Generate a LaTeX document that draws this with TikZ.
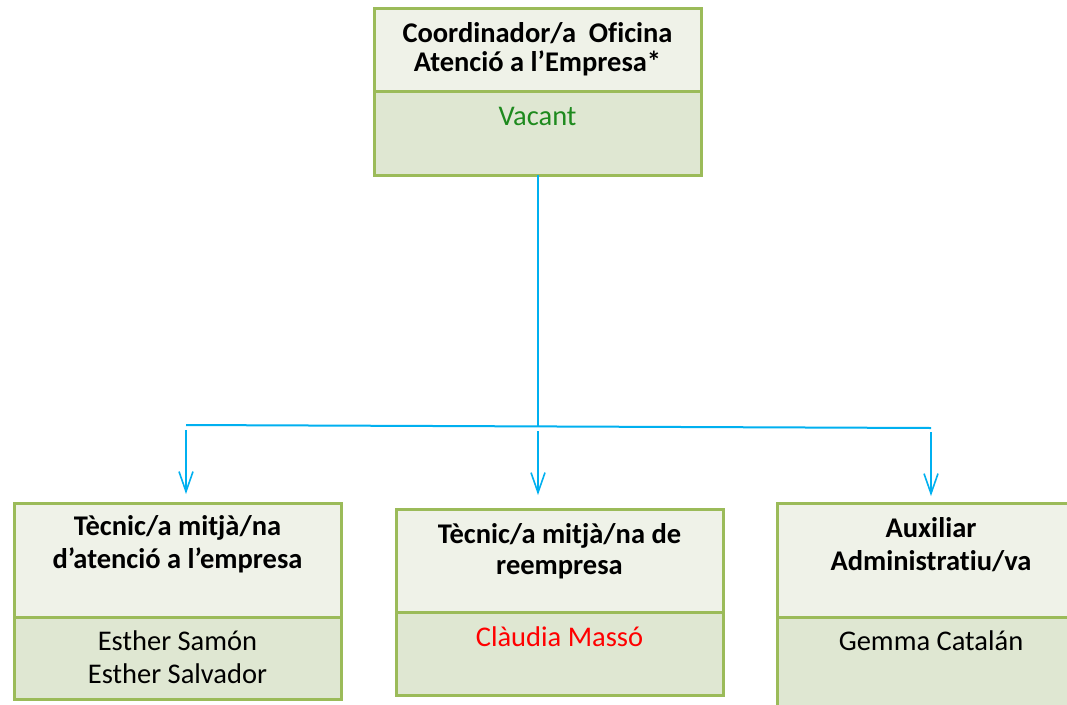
\documentclass[tikz,border=0pt]{standalone}
\usepackage{fontspec}
\setmainfont{Carlito}[Ligatures=NoCommon]
\usetikzlibrary{arrows.meta}
\definecolor{boxline}{HTML}{9BBB59}
\definecolor{headfill}{HTML}{EFF2E8}
\definecolor{bodyfill}{HTML}{DFE7D2}
\definecolor{conn}{HTML}{00B0F0}
\definecolor{vacgreen}{HTML}{1E8A1E}
\begin{document}
\begin{tikzpicture}[x=1pt,y=-1pt,
  head/.style={draw=boxline,fill=headfill,line width=3pt,minimum width=327pt,inner sep=0pt,outer sep=0pt},
  body/.style={draw=boxline,fill=bodyfill,line width=3pt,minimum width=327pt,inner sep=0pt,outer sep=0pt},
  title/.style={font=\fontsize{28.5}{30}\selectfont\bfseries,align=center,inner sep=0pt},
  names/.style={font=\fontsize{28.5}{33}\selectfont,align=center,inner sep=0pt},
  link/.style={draw=conn,line width=2pt},
  arr/.style={draw=conn,line width=1.6pt,-{Straight Barb[length=20pt,width=14pt,line width=1.6pt]}}]
\useasboundingbox (0,0) rectangle (1067,704);
\fill[white] (0,0) rectangle (1067,704);
% top box
\node[body,minimum height=84pt] (topbody) at (537.5,133) {};
\node[head,minimum height=83pt] (tophead) at (537.5,49.5) {};
\node[title,font=\fontsize{28.5}{29}\selectfont\bfseries] (toptitle) at (537.5,49) {Coordinador/a\ \ Oficina\\Atenció a l’Empresa*};
\node[names,text=vacgreen] (topname) at (537.5,116) {Vacant};
% left box
\node[body,minimum height=82pt] (lbody) at (177.5,658) {};
\node[head,minimum height=114pt] (lhead) at (177.5,560) {};
\node[title,font=\fontsize{28.5}{33}\selectfont\bfseries] (ltitle) at (177.5,544.5) {Tècnic/a mitjà/na\\d’atenció a l’empresa};
\node[names] (lname) at (177.5,657.5) {Esther Samón\\Esther Salvador};
% middle box
\node[body,minimum height=83pt] (mbody) at (559.5,653.5) {};
\node[head,minimum height=103pt] (mhead) at (559.5,560.5) {};
\node[title,font=\fontsize{28.5}{31}\selectfont\bfseries] (mtitle) at (559.5,551) {Tècnic/a mitjà/na de\\reempresa};
\node[names,text=red] (mname) at (559.5,637) {Clàudia Massó};
% right box
\node[body,minimum height=100pt] (rbody) at (940.5,667) {};
\node[head,minimum height=114pt] (rhead) at (940.5,560) {};
\node[title,font=\fontsize{28.5}{33}\selectfont\bfseries] (rtitle) at (931,544.5) {Auxiliar\\Administratiu/va};
\node[names] (rname) at (931,641) {Gemma Catalán};
% connectors
\coordinate (j) at (538,426.5);
\coordinate (hl) at (186,425);
\coordinate (hr) at (931,428);
\coordinate (al) at (186,430);
\coordinate (am) at (538,431);
\coordinate (ar) at (931,432);
\draw[link] (topbody.south -| j) -- (j);
\draw[link] (hl) -- (hr);
\draw[arr] (al) -- ++(0,64);
\draw[arr] (am) -- ++(0,64);
\draw[arr] (ar) -- ++(0,64);
\end{tikzpicture}
\end{document}
